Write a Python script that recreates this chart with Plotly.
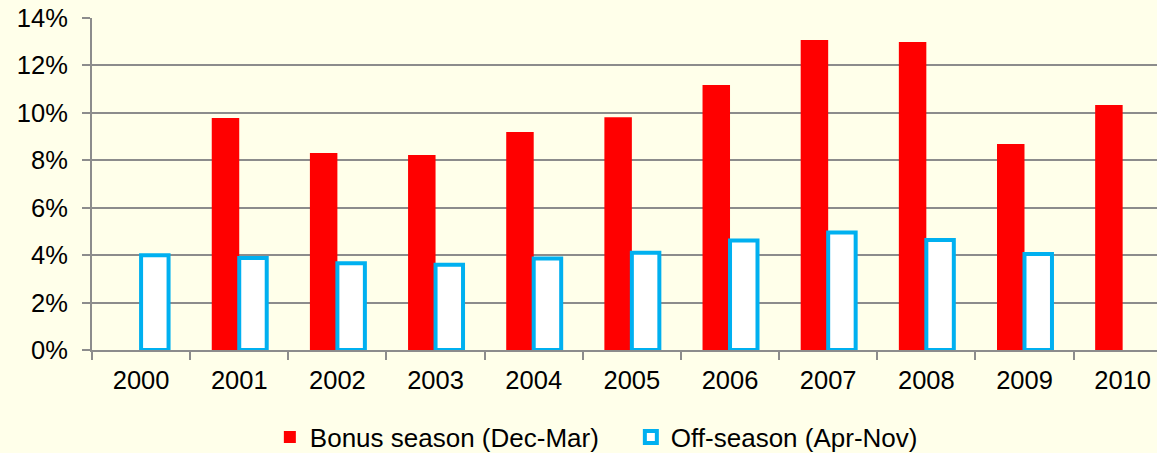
import plotly.graph_objects as go

years = ["2000", "2001", "2002", "2003", "2004", "2005", "2006", "2007", "2008", "2009", "2010"]
bonus = [None, 9.78, 8.31, 8.22, 9.19, 9.82, 11.17, 13.07, 12.99, 8.69, 10.33]
offseason = [4.0, 3.88, 3.66, 3.6, 3.86, 4.1, 4.62, 4.95, 4.64, 4.05, None]
y_ticks = [0, 2, 4, 6, 8, 10, 12, 14]
y_labels = [f"{v}%" for v in y_ticks]

BG = "#FFFFEA"
GRID = "#8C8C8C"
TICKFONT = dict(family="Liberation Sans, Arial, sans-serif", size=25.5, color="#000000")
LEGFONT = dict(family="Liberation Sans, Arial, sans-serif", size=26, color="#000000")

fig = go.Figure()
fig.add_trace(go.Bar(
    x=years, y=bonus, name="Bonus season (Dec-Mar)",
    marker=dict(color="#FF0000", line=dict(width=0)),
))
fig.add_trace(go.Bar(
    x=years, y=offseason, name="Off-season (Apr-Nov)",
    marker=dict(color="#FFFFFF", line=dict(color="#00B0F0", width=4)),
))

fig.update_layout(
    width=1157, height=453,
    margin=dict(l=92, r=0, t=18, b=103, autoexpand=False),
    paper_bgcolor=BG, plot_bgcolor=BG,
    font=TICKFONT,
    barmode="group", bargap=0.44, bargroupgap=0,
    showlegend=True,
    legend=dict(orientation="h", x=0.167, xanchor="left", y=-0.262, yanchor="middle",
                font=LEGFONT, bgcolor="rgba(0,0,0,0)", itemwidth=30,
                entrywidth=316, entrywidthmode="pixels"),
    xaxis=dict(
        type="category", range=[-0.5, 10.35], automargin=False,
        showgrid=False, showline=True, linecolor=GRID, linewidth=2,
        ticks="outside", tickson="boundaries", ticklen=8, tickcolor=GRID, tickwidth=2,
        tickfont=TICKFONT, ticklabelstandoff=6,
    ),
    yaxis=dict(
        range=[0, 14], tickmode="array", tickvals=y_ticks, ticktext=y_labels,
        automargin=False,
        showgrid=True, gridcolor=GRID, gridwidth=2,
        showline=True, linecolor=GRID, linewidth=2,
        ticks="outside", ticklen=8, tickcolor=GRID, tickwidth=2,
        tickfont=TICKFONT, zeroline=False, ticklabelstandoff=9,
    ),
)

fig.write_html(
    "out.html",
    config={"displayModeBar": False},
    post_script="document.body.style.margin='0';document.body.style.overflow='hidden';",
)
